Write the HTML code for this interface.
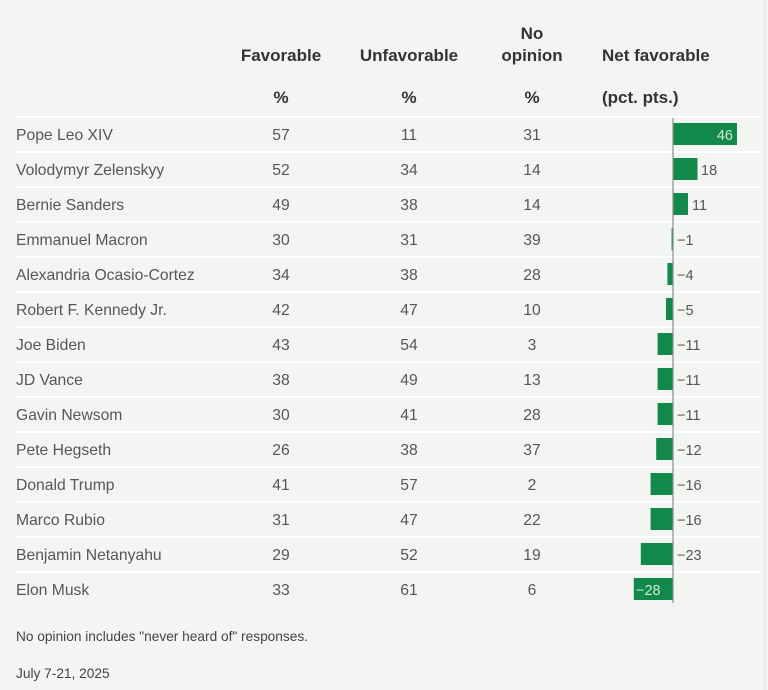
<!DOCTYPE html>
<html><head><meta charset="utf-8"><style>
html,body{margin:0;padding:0;background:#f2f5f1;}
svg{display:block;}
text{font-family:"Liberation Sans",sans-serif;}
.h{font-size:17px;font-weight:bold;fill:#333;}
.b{font-size:15.7px;fill:#575757;}
.v{font-size:14.5px;fill:#555;}
.f{font-size:13.7px;fill:#444;}
</style></head><body>
<svg width="768" height="690" viewBox="0 0 768 690" xmlns="http://www.w3.org/2000/svg">
<rect width="768" height="690" fill="#f2f5f1"/>
<line x1="765" y1="0" x2="765" y2="690" stroke="#dfe3de" stroke-width="1"/>
<text class="h" x="281" y="61" text-anchor="middle">Favorable</text>
<text class="h" x="409" y="61" text-anchor="middle">Unfavorable</text>
<text class="h" x="532" y="39" text-anchor="middle">No</text>
<text class="h" x="532" y="61" text-anchor="middle">opinion</text>
<text class="h" x="602" y="61">Net favorable</text>
<text class="h" x="281" y="103" text-anchor="middle">%</text>
<text class="h" x="409" y="103" text-anchor="middle">%</text>
<text class="h" x="532" y="103" text-anchor="middle">%</text>
<text class="h" x="602" y="103">(pct. pts.)</text>
<g fill="#ffffff">
<rect x="16" y="116" width="744" height="2"/>
<rect x="16" y="151" width="744" height="2"/>
<rect x="16" y="186" width="744" height="2"/>
<rect x="16" y="221" width="744" height="2"/>
<rect x="16" y="256" width="744" height="2"/>
<rect x="16" y="291" width="744" height="2"/>
<rect x="16" y="326" width="744" height="2"/>
<rect x="16" y="361" width="744" height="2"/>
<rect x="16" y="396" width="744" height="2"/>
<rect x="16" y="431" width="744" height="2"/>
<rect x="16" y="466" width="744" height="2"/>
<rect x="16" y="501" width="744" height="2"/>
<rect x="16" y="536" width="744" height="2"/>
<rect x="16" y="571" width="744" height="2"/>
</g>
<g class="b">
<text x="16" y="140">Pope Leo XIV</text>
<text x="16" y="175">Volodymyr Zelenskyy</text>
<text x="16" y="210">Bernie Sanders</text>
<text x="16" y="245">Emmanuel Macron</text>
<text x="16" y="280">Alexandria Ocasio-Cortez</text>
<text x="16" y="315">Robert F. Kennedy Jr.</text>
<text x="16" y="350">Joe Biden</text>
<text x="16" y="385">JD Vance</text>
<text x="16" y="420">Gavin Newsom</text>
<text x="16" y="455">Pete Hegseth</text>
<text x="16" y="490">Donald Trump</text>
<text x="16" y="525">Marco Rubio</text>
<text x="16" y="560">Benjamin Netanyahu</text>
<text x="16" y="595">Elon Musk</text>
</g>
<g class="b" text-anchor="middle">
<text x="281" y="140">57</text><text x="409" y="140">11</text><text x="532" y="140">31</text>
<text x="281" y="175">52</text><text x="409" y="175">34</text><text x="532" y="175">14</text>
<text x="281" y="210">49</text><text x="409" y="210">38</text><text x="532" y="210">14</text>
<text x="281" y="245">30</text><text x="409" y="245">31</text><text x="532" y="245">39</text>
<text x="281" y="280">34</text><text x="409" y="280">38</text><text x="532" y="280">28</text>
<text x="281" y="315">42</text><text x="409" y="315">47</text><text x="532" y="315">10</text>
<text x="281" y="350">43</text><text x="409" y="350">54</text><text x="532" y="350">3</text>
<text x="281" y="385">38</text><text x="409" y="385">49</text><text x="532" y="385">13</text>
<text x="281" y="420">30</text><text x="409" y="420">41</text><text x="532" y="420">28</text>
<text x="281" y="455">26</text><text x="409" y="455">38</text><text x="532" y="455">37</text>
<text x="281" y="490">41</text><text x="409" y="490">57</text><text x="532" y="490">2</text>
<text x="281" y="525">31</text><text x="409" y="525">47</text><text x="532" y="525">22</text>
<text x="281" y="560">29</text><text x="409" y="560">52</text><text x="532" y="560">19</text>
<text x="281" y="595">33</text><text x="409" y="595">61</text><text x="532" y="595">6</text>
</g>
<g fill="#12884b">
<rect x="673" y="123" width="64" height="22"/>
<rect x="673" y="158" width="24.5" height="22"/>
<rect x="673" y="193" width="15" height="22"/>
<rect x="671.6" y="228" width="1.4" height="22"/>
<rect x="667.4" y="263" width="5.6" height="22"/>
<rect x="666" y="298" width="7" height="22"/>
<rect x="657.6" y="333" width="15.4" height="22"/>
<rect x="657.6" y="368" width="15.4" height="22"/>
<rect x="657.6" y="403" width="15.4" height="22"/>
<rect x="656.2" y="438" width="16.8" height="22"/>
<rect x="650.6" y="473" width="22.4" height="22"/>
<rect x="650.6" y="508" width="22.4" height="22"/>
<rect x="640.8" y="543" width="32.2" height="22"/>
<rect x="633.8" y="578" width="39.2" height="22"/>
</g>
<line x1="673" y1="118" x2="673" y2="603" stroke="#8a8f8a" stroke-width="1.2"/>
<g class="v">
<text x="733" y="140" text-anchor="end" fill="#cfe8d8">46</text>
<text x="701" y="175">18</text>
<text x="692" y="210">11</text>
<text x="677" y="245">−1</text>
<text x="677" y="280">−4</text>
<text x="677" y="315">−5</text>
<text x="677" y="350">−11</text>
<text x="677" y="385">−11</text>
<text x="677" y="420">−11</text>
<text x="677" y="455">−12</text>
<text x="677" y="490">−16</text>
<text x="677" y="525">−16</text>
<text x="677" y="560">−23</text>
<text x="636" y="595" fill="#cfe8d8">−28</text>
</g>
<text class="f" x="16" y="641">No opinion includes "never heard of" responses.</text>
<text class="f" x="16" y="678">July 7-21, 2025</text>
</svg>
</body></html>
